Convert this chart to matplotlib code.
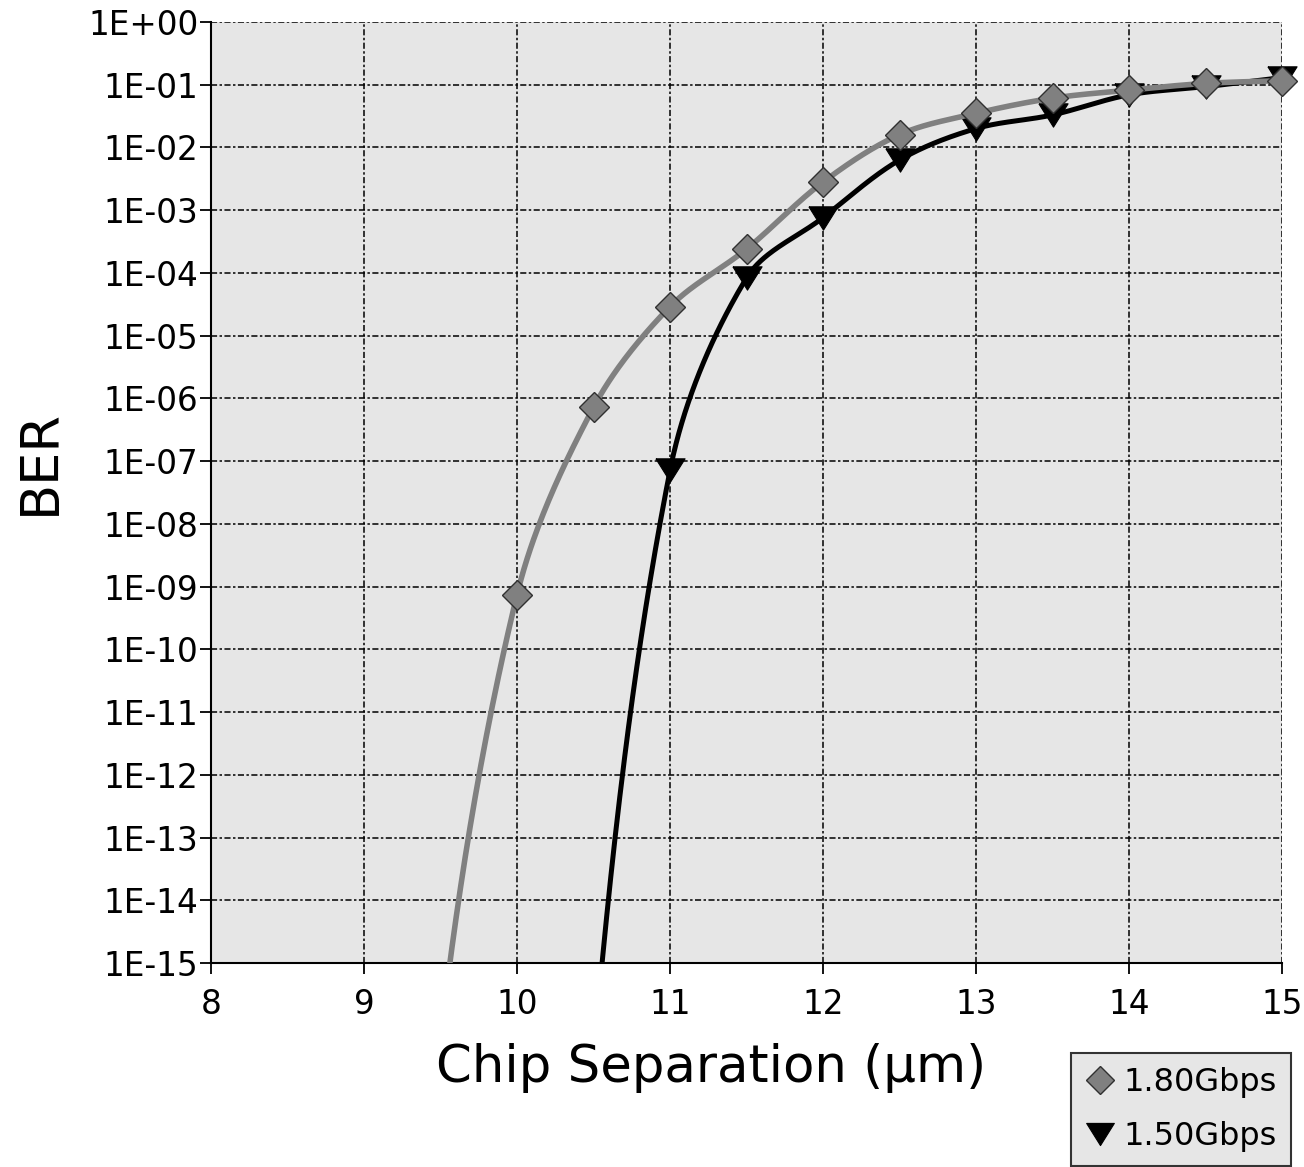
import numpy as np
import matplotlib
matplotlib.use("Agg")
import matplotlib.pyplot as plt
from matplotlib.ticker import FixedLocator, FuncFormatter, NullLocator

# ---------------- data ----------------
# x = chip separation (um); values = BER. Points below 1E-15 are off-axis (clipped).
x_180 = [9.0, 9.5, 10.0, 10.5, 11.0, 11.5, 12.0, 12.5, 13.0, 13.5, 14.0, 14.5, 15.0]
ber_180 = [1e-30, 6.3e-17, 7.4e-10, 7.2e-07, 2.9e-05, 2.4e-04, 2.8e-03,
           1.6e-02, 3.5e-02, 6.1e-02, 8.2e-02, 1.05e-01, 1.16e-01]

x_150 = [10.0, 10.5, 11.0, 11.5, 12.0, 12.5, 13.0, 13.5, 14.0, 14.5, 15.0]
ber_150 = [1e-35, 3.2e-17, 7.1e-08, 8.3e-05, 7.6e-04, 6.3e-03, 2.0e-02,
           3.3e-02, 6.9e-02, 9.3e-02, 1.3e-01]

labels = ["1.80Gbps", "1.50Gbps"]
xlabel = "Chip Separation (\u00b5m)"
ylabel = "BER"
x_ticks = [8, 9, 10, 11, 12, 13, 14, 15]
y_exps = list(range(0, -16, -1))

W, H = 1304, 1167
PX_X = (1282 - 211) / 7.0      # pixels per x unit
PX_Y = (963 - 22) / 15.0       # pixels per decade


def smooth(xs, ys, n=60):
    """Excel-like smoothed line: chord-length scaled Bezier in screen space."""
    P = np.column_stack([np.asarray(xs, float) * PX_X,
                         np.log10(np.asarray(ys, float)) * PX_Y])
    out = []
    m = len(P)
    for i in range(m - 1):
        p0 = P[i - 1] if i > 0 else P[i]
        p1 = P[i]
        p2 = P[i + 1]
        p3 = P[i + 2] if i + 2 < m else P[i + 1]
        d01 = np.linalg.norm(p1 - p0)
        d12 = np.linalg.norm(p2 - p1)
        d23 = np.linalg.norm(p3 - p2)
        f1 = d12 / (d01 + d12) / 3.0 if d01 > 0 else 1 / 6.0
        f2 = d12 / (d12 + d23) / 3.0 if d23 > 0 else 1 / 6.0
        c1 = p1 + (p2 - p0) * f1
        c2 = p2 - (p3 - p1) * f2
        t = np.linspace(0, 1, n)[:, None]
        seg = ((1 - t) ** 3) * p1 + 3 * ((1 - t) ** 2) * t * c1 + 3 * (1 - t) * t ** 2 * c2 + t ** 3 * p2
        out.append(seg if i == 0 else seg[1:])
    S = np.vstack(out)
    return S[:, 0] / PX_X, 10 ** (S[:, 1] / PX_Y)


fig = plt.figure(figsize=(W / 100, H / 100), dpi=100)
fig.patch.set_facecolor("white")
ax = fig.add_axes([211 / W, 1 - 963 / H, (1282 - 211) / W, (963 - 22) / H])
ax.set_facecolor("#e6e6e6")
ax.set_yscale("log")
ax.set_xlim(8, 15)
ax.set_ylim(1e-15, 1)

# grid
grid_ls = (0, (4.0, 1.6, 1.6, 1.6))
ax.xaxis.set_major_locator(FixedLocator(x_ticks))
ax.yaxis.set_major_locator(FixedLocator([10.0 ** e for e in y_exps]))
ax.yaxis.set_minor_locator(NullLocator())
ax.yaxis.set_major_formatter(FuncFormatter(lambda v, p: "1E%+03d" % int(round(np.log10(v)))))
ax.xaxis.set_major_formatter(FuncFormatter(lambda v, p: "%d" % v))
ax.grid(True, which="major", color="black", linestyle=grid_ls, linewidth=1.1)
ax.set_axisbelow(True)

for s in ["top", "right"]:
    ax.spines[s].set_visible(False)
for s in ["left", "bottom"]:
    ax.spines[s].set_linewidth(1.5)
    ax.spines[s].set_color("black")

ax.tick_params(axis="both", direction="out", length=8, width=1.3, labelsize=23.5,
               colors="black")
ax.tick_params(axis="y", pad=1)
ax.tick_params(axis="x", pad=10)

tri = [(-1.0, 0.8), (1.0, 0.8), (0.0, -0.8), (-1.0, 0.8)]

# 1.50 Gbps (black)
xs, ys = smooth(x_150, ber_150)
ax.plot(xs, ys, color="black", lw=3.6, solid_capstyle="butt", zorder=3)
vis = [i for i, v in enumerate(ber_150) if v >= 1e-15]
ax.plot([x_150[i] for i in vis], [ber_150[i] for i in vis], linestyle="none",
        marker=tri, markersize=21, markerfacecolor="black", markeredgecolor="black",
        markeredgewidth=0.8, zorder=4, clip_on=False, label=labels[1])

# 1.80 Gbps (grey)
xs, ys = smooth(x_180, ber_180)
ax.plot(xs, ys, color="#808080", lw=4.0, solid_capstyle="butt", zorder=5)
vis = [i for i, v in enumerate(ber_180) if v >= 1e-15]
ax.plot([x_180[i] for i in vis], [ber_180[i] for i in vis], linestyle="none",
        marker="D", markersize=15, markerfacecolor="#808080", markeredgecolor="#303030",
        markeredgewidth=1.0, zorder=6, clip_on=False, label=labels[0])

# axis labels
fig.text(711 / W, 1 - 1082 / H, xlabel, fontsize=37, ha="center", va="baseline")
fig.text(40 / W, 1 - 462 / H, ylabel, fontsize=38, ha="center", va="center", rotation=90)

# legend
h, l = ax.get_legend_handles_labels()
order = [1, 0]
leg = fig.legend([h[i] for i in order], [l[i] for i in order],
                 loc="upper left", bbox_to_anchor=(1071 / W, 1 - 1053 / H),
                 fontsize=23, frameon=True, fancybox=False, framealpha=1,
                 facecolor="#e6e6e6", edgecolor="#333333", handlelength=0.9,
                 handletextpad=0.3, borderpad=0.45, labelspacing=0.7,
                 borderaxespad=0, markerscale=0.95)
leg.get_frame().set_linewidth(1.5)

fig.savefig("out.png", dpi=100)
